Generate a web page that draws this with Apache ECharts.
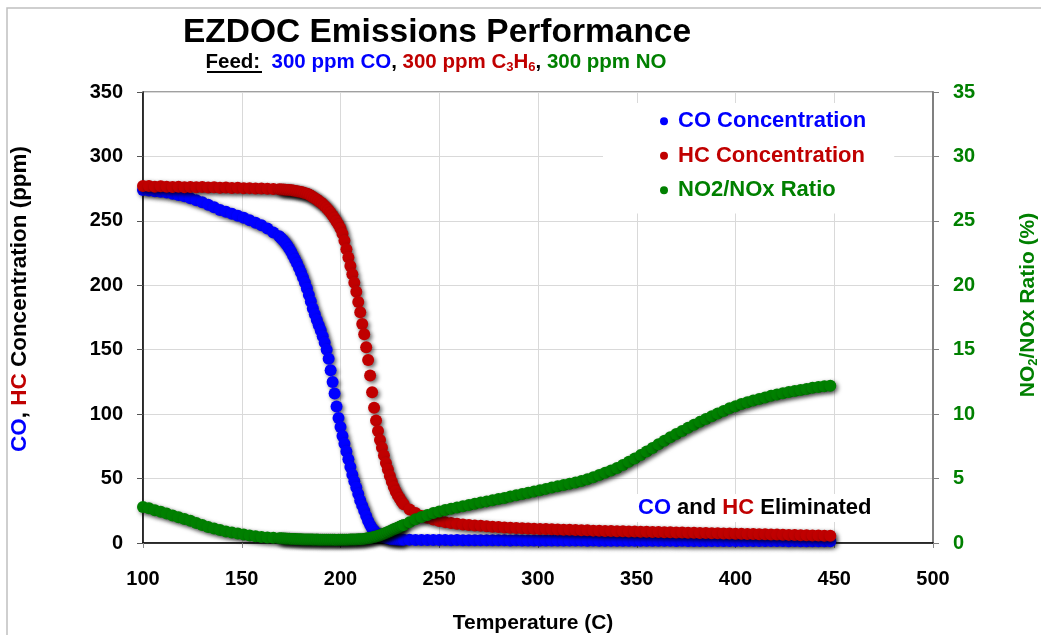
<!DOCTYPE html>
<html>
<head>
<meta charset="utf-8">
<script src="https://cdn.jsdelivr.net/npm/echarts@6/dist/echarts.min.js"></script>
<style>
html,body{margin:0;padding:0;background:#fff;}
#chart{width:1041px;height:635px;}
</style>
</head>
<body>
<div id="chart"></div>
<script>
// ---------- data ----------
const temps = [
  100,103,106,109,112,115,118,121,124,127,130,133,136,139,142,145,148,151,154,157,160,163,166,169,
  170,171,172,173,174,175,176,177,178,179,180,181,182,183,184,185,
  186,187,188,189,190,191,192,193,194,195,196,197,198,199,200,201,202,203,204,205,206,207,208,209,210,
  211,212,213,214,215,216,217,218,219,220,221,222,223,224,225,226,227,228,229,230,231,232,
  235,238,241,244,247,250,253,256,259,262,265,268,271,274,277,280,283,286,289,292,295,298,301,304,307,310,
  313,316,319,322,325,328,331,334,337,340,343,346,349,352,355,358,361,364,367,370,373,376,379,382,385,388,
  391,394,397,400,403,406,409,412,415,418,421,424,427,430,433,436,439,442,445,448
];
const coPpm = [
  274,273.5,273,272.5,272,271,270,269,267.5,266,264.5,262.5,260.5,258.5,257,255.5,254,252.5,250.5,248.5,246.5,244,241,238,
  236.5,235,233,231,228.5,226,223,220,217,213.5,210,206,202,197.5,192.5,187.5,
  182,177.5,173,169,165,160.5,155.5,150,143,134,125,116,106,97,90,83,77,71,65,59,53,48,43,38,33,
  29,25,21,17,14,11.5,9.5,8,7,6,5.2,4.5,4,3.6,3.3,3,2.9,2.8,2.7,2.6,2.6,2.5,
  2.5,2.4,2.4,2.3,2.4,2.3,2.3,2.2,2.3,2.2,2.2,2.2,2.1,2.2,2.1,2.1,2.1,2.0,2.1,2.0,2.0,2.0,2.0,1.9,2.0,1.9,
  1.9,1.9,1.9,1.9,1.8,1.9,1.8,1.8,1.8,1.8,1.8,1.7,1.8,1.7,1.7,1.7,1.7,1.7,1.7,1.6,1.7,1.6,1.6,1.6,1.6,1.6,
  1.6,1.6,1.5,1.6,1.5,1.5,1.5,1.5,1.5,1.5,1.5,1.5,1.4,1.5,1.4,1.4,1.4,1.4,1.4,1.4
];
const hcPpm = [
  277,277,276.5,276.8,276.5,276.2,276.5,276,276.3,276,276.2,275.8,276,275.7,275.8,275.5,275.6,275.3,275.4,275.2,275.2,275,274.8,274.5,
  274.4,274.3,274.2,274,273.9,273.8,273.5,273.2,273,272.6,272.3,272,271.5,271,270.5,269.5,
  268.5,267.5,266.5,265.5,264.3,263,261.5,260,258.2,256.3,254.2,252,249.5,247,244,240,234.5,228,221.5,215,208.5,202,195,187,179,
  170,162,152,142,130,117,105,95,87,80,74,68,62,57,52,47.5,43.5,40,37,34.5,32,30,
  26,23.2,21,19.5,18.2,17.1,16.2,15.5,14.9,14.4,14.0,13.6,13.3,13.0,12.7,12.4,12.1,11.9,11.7,11.5,11.3,11.1,10.9,10.8,10.6,10.5,
  10.3,10.2,10.0,9.9,9.8,9.6,9.5,9.4,9.3,9.2,9.1,9.0,8.9,8.8,8.7,8.6,8.5,8.4,8.3,8.2,8.1,8.0,7.9,7.8,7.7,7.6,
  7.5,7.4,7.3,7.2,7.1,7.0,6.9,6.8,6.7,6.6,6.5,6.4,6.3,6.2,6.1,6.0,5.9,5.8,5.7,5.6
];
const no2Ratio = [
  2.8,2.7,2.55,2.42,2.28,2.14,2.0,1.86,1.72,1.56,1.4,1.25,1.12,1.0,0.9,0.82,0.74,0.66,0.58,0.52,0.47,0.43,0.4,0.37,
  0.36,0.35,0.34,0.33,0.33,0.32,0.31,0.31,0.3,0.3,0.29,0.28,0.28,0.27,0.27,0.27,
  0.27,0.26,0.27,0.26,0.25,0.26,0.25,0.26,0.25,0.25,0.26,0.25,0.24,0.25,0.25,0.26,0.25,0.26,0.26,0.27,0.27,0.28,0.28,0.29,0.29,
  0.3,0.32,0.34,0.36,0.38,0.42,0.46,0.5,0.55,0.6,0.66,0.72,0.78,0.85,0.92,0.99,1.06,1.12,1.19,1.26,1.33,1.4,
  1.62,1.85,2.02,2.17,2.32,2.45,2.56,2.66,2.76,2.86,2.95,3.05,3.14,3.23,3.32,3.42,3.5,3.6,3.7,3.8,3.9,4.0,4.1,4.2,4.3,4.4,
  4.5,4.6,4.7,4.82,4.95,5.1,5.28,5.45,5.62,5.82,6.05,6.3,6.55,6.82,7.1,7.38,7.66,7.94,8.2,8.45,8.7,8.95,9.18,9.4,9.62,9.84,
  10.05,10.25,10.45,10.62,10.78,10.92,11.05,11.18,11.3,11.42,11.52,11.62,11.72,11.8,11.88,11.96,12.04,12.1,12.16,12.2
];
const seriesNames = ['CO Concentration', 'HC Concentration', 'NO2/NOx Ratio'];
const leftTicks = {min: 0, max: 350, step: 50};
const rightTicks = {min: 0, max: 35, step: 5};
const xTicks = {min: 100, max: 500, step: 50};

// ---------- styling ----------
const FONT = '"Liberation Sans", Arial, sans-serif';
const BLUE = '#0000ff', RED = '#c00000', GREEN = '#008000';
const pairs = vals => temps.map((t, i) => [t, vals[i]]);
const dotStyle = c => ({
  color: c, opacity: 1, shadowBlur: 4, shadowColor: 'rgba(0,0,0,0.6)', shadowOffsetX: 2, shadowOffsetY: 2
});
const tok = (size, fill, extra) => Object.assign({fontSize: size, fontWeight: 'bold', fontFamily: FONT, fill: fill}, extra || {});

const chart = echarts.init(document.getElementById('chart'), null, {renderer: 'canvas'});
const option = {
  backgroundColor: '#fff',
  animation: false,
  textStyle: {fontFamily: FONT},
  grid: {left: 143, right: 108, top: 92, bottom: 92, show: true, borderColor: '#404040', borderWidth: 1},
  xAxis: {
    type: 'value', min: xTicks.min, max: xTicks.max, interval: xTicks.step,
    axisLine: {show: true, lineStyle: {color: '#000', width: 1.5}},
    axisTick: {show: true, length: 5, lineStyle: {color: '#888'}},
    splitLine: {show: true, lineStyle: {color: '#d9d9d9', width: 1}},
    axisLabel: {margin: 26, fontSize: 20, fontWeight: 'bold', color: '#000', fontFamily: FONT}
  },
  yAxis: [{
    type: 'value', min: leftTicks.min, max: leftTicks.max, interval: leftTicks.step,
    axisLine: {show: true, lineStyle: {color: '#000', width: 1.5}},
    axisTick: {show: true, length: 6, lineStyle: {color: '#555'}},
    splitLine: {show: true, lineStyle: {color: '#d9d9d9', width: 1}},
    axisLabel: {margin: 20, fontSize: 20, fontWeight: 'bold', color: '#000', fontFamily: FONT}
  }, {
    type: 'value', position: 'right', min: rightTicks.min, max: rightTicks.max, interval: rightTicks.step,
    axisLine: {show: true, lineStyle: {color: '#808080', width: 2}},
    axisTick: {show: true, length: 6, lineStyle: {color: '#808080'}},
    splitLine: {show: false},
    axisLabel: {margin: 20, fontSize: 20, fontWeight: 'bold', color: GREEN, fontFamily: FONT}
  }],
  legend: {
    orient: 'vertical', left: 603, top: 103,
    padding: [7, 28, 12, 57], itemGap: 12, itemWidth: 8, itemHeight: 8,
    backgroundColor: '#fff', icon: 'circle',
    itemStyle: {opacity: 1, shadowBlur: 0, shadowOffsetX: 0, shadowOffsetY: 0},
    textStyle: {fontSize: 22, fontWeight: 'bold', fontFamily: FONT, lineHeight: 22.5, padding: [0, 0, 0, 5]},
    data: [
      {name: seriesNames[0], textStyle: {color: BLUE}},
      {name: seriesNames[1], textStyle: {color: RED}},
      {name: seriesNames[2], textStyle: {color: GREEN}}
    ]
  },
  series: [
    {name: seriesNames[0], type: 'scatter', yAxisIndex: 0, symbol: 'circle', symbolSize: 12,
     itemStyle: dotStyle(BLUE), data: pairs(coPpm), z: 2},
    {name: seriesNames[1], type: 'scatter', yAxisIndex: 0, symbol: 'circle', symbolSize: 12,
     itemStyle: dotStyle(RED), data: pairs(hcPpm), z: 3},
    {name: seriesNames[2], type: 'scatter', yAxisIndex: 1, symbol: 'circle', symbolSize: 12,
     itemStyle: dotStyle(GREEN), data: pairs(no2Ratio), z: 4}
  ],
  graphic: [
    {type: 'rect', z: -10, silent: true, shape: {x: 7, y: 8, width: 1200, height: 800},
     style: {fill: 'none', stroke: '#c0c0c0', lineWidth: 1.5}},
    {type: 'text', z: 10, style: {
      text: 'EZDOC Emissions Performance', x: 437, y: 33, textAlign: 'center', textVerticalAlign: 'middle',
      font: 'bold 33.5px ' + FONT, fill: '#000'}},
    {type: 'text', z: 10, style: {
      text: '{k|Feed:  }{b|300 ppm CO}{k|, }{r|300 ppm C}{rs|3}{r|H}{rs|6}{k|, }{g|300 ppm NO}',
      x: 436, y: 62, textAlign: 'center', textVerticalAlign: 'middle',
      rich: {
        k: tok(20.5, '#000', {lineHeight: 24}),
        b: tok(20.5, BLUE, {lineHeight: 24}),
        r: tok(20.5, RED, {lineHeight: 24}),
        rs: tok(13, RED, {verticalAlign: 'bottom'}),
        g: tok(20.5, GREEN, {lineHeight: 24})
      }}},
    {type: 'line', z: 10, shape: {x1: 207, y1: 72, x2: 262, y2: 72}, style: {stroke: '#000', lineWidth: 2}},
    {type: 'text', z: 10, x: 20, y: 299, rotation: Math.PI / 2, style: {
      text: '{b|CO}{k|, }{r|HC}{k| Concentration (ppm)}', x: 0, y: 0, textAlign: 'center', textVerticalAlign: 'middle',
      rich: {k: tok(22.5, '#000'), b: tok(22.5, BLUE), r: tok(22.5, RED)}}},
    {type: 'text', z: 10, x: 1028, y: 305, rotation: Math.PI / 2, style: {
      text: '{g|NO}{gs|2}{g|/NOx Ratio (%)}', x: 0, y: 0, textAlign: 'center', textVerticalAlign: 'middle',
      rich: {g: tok(21, GREEN, {lineHeight: 24}), gs: tok(13, GREEN, {verticalAlign: 'bottom'})}}},
    {type: 'text', z: 10, style: {
      text: '{b|CO }{k|and }{r|HC }{k|Eliminated}', x: 635, y: 508, textAlign: 'left', textVerticalAlign: 'middle',
      backgroundColor: '#fff', padding: [3, 4, 3, 3],
      rich: {k: tok(22, '#000'), b: tok(22, BLUE), r: tok(22, RED)}}},
    {type: 'text', z: 10, style: {
      text: 'Temperature (C)', x: 533, y: 623, textAlign: 'center', textVerticalAlign: 'middle',
      font: 'bold 21px ' + FONT, fill: '#000'}}
  ]
};
chart.setOption(option);
</script>
</body>
</html>
